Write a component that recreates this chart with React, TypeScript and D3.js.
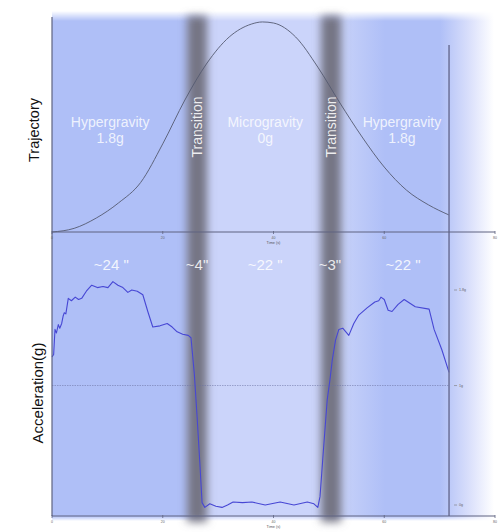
import React from 'react';
import * as d3 from 'd3';

// trajectory (time s, relative height)
const trajT = [0, 4, 8, 12, 16, 20, 24, 28, 32, 36, 38, 40, 44, 48, 52, 56, 60, 64, 68, 71.7];
const trajH = [0, 1.7, 6.5, 13.5, 23, 41, 61.4, 78.6, 90.7, 96.7, 97.7, 97.2, 90.7, 76.7, 60, 44.2, 30.2, 19.5, 12.6, 7.9];

// measured acceleration (time s, g)
const accT = [0, 0.3, 0.54, 0.8, 1.14, 1.4, 1.75, 2.0, 2.22, 2.5, 2.94, 3.5, 4.2, 4.8, 5.36, 6.2, 7.17, 8.2, 9.21, 10.1, 11.0, 11.9, 12.8, 13.7, 14.4, 15.4, 16.4, 17.3, 18.2, 19.5, 20.8, 21.7, 22.6, 23.6, 24.6, 25.1, 25.7, 26.2, 26.7, 27.1, 27.6, 28.5, 29.6, 30.7, 31.7, 32.7, 34.4, 36.1, 38.5, 41.2, 43.7, 46.1, 47.3, 48.0, 48.4, 49.0, 49.7, 50.2, 50.6, 51.2, 51.8, 52.5, 53.6, 54.5, 55.4, 56.9, 58.3, 59.0, 59.4, 60.0, 60.7, 61.4, 62.5, 63.6, 65.6, 68.1, 69.0, 70.4, 71.7];
const accG = [1.24, 1.26, 1.47, 1.44, 1.51, 1.48, 1.52, 1.58, 1.61, 1.6, 1.73, 1.71, 1.74, 1.72, 1.73, 1.79, 1.84, 1.82, 1.83, 1.82, 1.87, 1.84, 1.82, 1.78, 1.8, 1.79, 1.76, 1.62, 1.49, 1.5, 1.52, 1.49, 1.45, 1.43, 1.42, 1.4, 1.1, 0.74, 0.35, 0.02, -0.02, 0.01, -0.01, -0.02, 0.0, 0.025, 0.02, 0.025, 0.0, 0.025, 0.0, 0.025, 0.01, -0.02, 0.07, 0.45, 0.88, 1.05, 1.21, 1.38, 1.47, 1.48, 1.42, 1.52, 1.59, 1.65, 1.7, 1.71, 1.74, 1.72, 1.63, 1.62, 1.68, 1.72, 1.66, 1.64, 1.47, 1.3, 1.11];

const phaseNames = ['Hypergravity', 'Microgravity', 'Hypergravity'];
const phaseLevels = ['1.8g', '0g', '1.8g'];
const phaseMid = [10.5, 38.5, 63.2];

const transitionMid = [26.2, 50.4];
const transitionWidth = 3.6;

const durations = ['~24 "', '~4"', '~22 "', '~3"', '~22 "'];
const durationMid = [10.7, 26.2, 38.5, 50.2, 63.4];

const timeTicks = [0, 20, 40, 60, 80];
const accTicks = [0, 1, 1.8];
const accTickLabels = ['0g', '1g', '1.8g'];

const HYPER = '#afbff7';
const MICRO = '#cbd4fa';

export default function App() {
  const x = d3.scaleLinear().domain([0, 80]).range([52, 495]);
  const yTraj = d3.scaleLinear().domain([0, 100]).range([232, 17]);
  const yAcc = d3.scaleLinear().domain([0, 1.8]).range([505, 290]);

  const trajLine = d3.line<number>()
    .x((_, i) => x(trajT[i]))
    .y(d => yTraj(d))
    .curve(d3.curveMonotoneX)(trajH);

  const accLine = d3.line<number>()
    .x((_, i) => x(accT[i]))
    .y(d => yAcc(d))(accG);

  const tEnd = accT[accT.length - 1];
  const axisColor = '#5e6380';
  const font = 'Liberation Sans, Arial, sans-serif';

  const xAxis = (y0: number, key: string) => (
    <g key={key}>
      <line x1={x(0)} x2={x(80)} y1={y0} y2={y0} stroke={axisColor} strokeWidth={1} />
      {timeTicks.map(t => (
        <g key={t} transform={`translate(${x(t)},${y0})`}>
          <line y1={-1} y2={2} stroke={axisColor} strokeWidth={0.8} />
          <text y={7} fontSize={3.5} fill="#666" textAnchor="middle" fontFamily={font}>{t}</text>
        </g>
      ))}
      <text x={x(40)} y={y0 + 12} fontSize={3.8} fill="#555" textAnchor="middle" fontFamily={font}>Time (s)</text>
    </g>
  );

  return (
    <svg width={504} height={532} style={{ position: 'absolute', left: 0, top: 0, background: '#fff' }}>
      <defs>
        <linearGradient id="bgGrad" gradientUnits="userSpaceOnUse" x1={52} x2={504} y1={0} y2={0}>
          <stop offset={(185 - 52) / 452} stopColor={HYPER} />
          <stop offset={(200 - 52) / 452} stopColor={MICRO} />
          <stop offset={(318 - 52) / 452} stopColor={MICRO} />
          <stop offset={(345 - 52) / 452} stopColor="#c5d0f9" />
          <stop offset={(385 - 52) / 452} stopColor={HYPER} />
          <stop offset={(440 - 52) / 452} stopColor={HYPER} />
          <stop offset={(468 - 52) / 452} stopColor="#d8defb" />
          <stop offset={(494 - 52) / 452} stopColor="#ffffff" />
        </linearGradient>
        <linearGradient id="vFade" gradientUnits="userSpaceOnUse" x1={0} x2={0} y1={11} y2={521}>
          <stop offset={0} stopColor="#fff" stopOpacity={0} />
          <stop offset={10 / 510} stopColor="#fff" stopOpacity={1} />
          <stop offset={505 / 510} stopColor="#fff" stopOpacity={1} />
          <stop offset={1} stopColor="#fff" stopOpacity={0} />
        </linearGradient>
        <mask id="vMask">
          <rect x={0} y={0} width={504} height={532} fill="url(#vFade)" />
        </mask>
        <filter id="blurT" x="-100%" y="-10%" width="300%" height="120%">
          <feGaussianBlur stdDeviation={4} />
        </filter>
      </defs>

      <rect x={52} y={8} width={452} height={514} fill="url(#bgGrad)" mask="url(#vMask)" />

      {transitionMid.map(t => (
        <rect key={t} x={x(t - transitionWidth / 2)} y={16} width={x(transitionWidth) - x(0)} height={506}
          fill="#747484" filter="url(#blurT)" />
      ))}

      {/* trajectory */}
      <path d={trajLine || ''} fill="none" stroke="#555a70" strokeWidth={0.9} />

      {/* dotted 1g reference */}
      <line x1={x(0)} x2={x(tEnd)} y1={yAcc(1)} y2={yAcc(1)} stroke="#6a70a0" strokeWidth={0.7} strokeDasharray="1.5,1" opacity={0.8} />

      {/* acceleration */}
      <path d={accLine || ''} fill="none" stroke="#4747d4" strokeWidth={1.1} strokeLinejoin="round" />

      {/* axes */}
      <line x1={52} x2={52} y1={17} y2={516} stroke={axisColor} strokeWidth={1.2} />
      <line x1={x(tEnd)} x2={x(tEnd)} y1={45} y2={516} stroke="#6b7098" strokeWidth={1.5} />
      {xAxis(yTraj(0), 'top')}
      {xAxis(516, 'bottom')}
      {accTicks.map((v, i) => (
        <g key={v} transform={`translate(${x(tEnd)},${yAcc(v)})`}>
          <line x1={5} x2={8} stroke="#777" strokeWidth={0.6} />
          <text x={10} y={1.3} fontSize={3.6} fill="#666" fontFamily={font}>{accTickLabels[i]}</text>
        </g>
      ))}

      {/* phase labels */}
      {phaseNames.map((n, i) => (
        <text key={i} x={x(phaseMid[i])} textAnchor="middle" fill="#fff" fillOpacity={0.8}
          fontSize={14} fontFamily={font}>
          <tspan x={x(phaseMid[i])} y={127}>{n}</tspan>
          <tspan x={x(phaseMid[i])} y={143}>{phaseLevels[i]}</tspan>
        </text>
      ))}
      {transitionMid.map(t => (
        <text key={t} transform={`translate(${x(t) + 5},127) rotate(-90)`} textAnchor="middle"
          fill="#fff" fillOpacity={0.88} fontSize={14} fontFamily={font}>Transition</text>
      ))}
      {durations.map((d, i) => (
        <text key={i} x={x(durationMid[i])} y={270} textAnchor="middle" fill="#fff" fillOpacity={0.85}
          fontSize={15} fontFamily={font}>{d}</text>
      ))}

      {/* y titles */}
      <text transform="translate(39,130) rotate(-90)" textAnchor="middle" fontSize={14.5} fill="#111" fontFamily={font}>Trajectory</text>
      <text transform="translate(43,393) rotate(-90)" textAnchor="middle" fontSize={15} fill="#111" fontFamily={font}>Acceleration(g)</text>
    </svg>
  );
}
